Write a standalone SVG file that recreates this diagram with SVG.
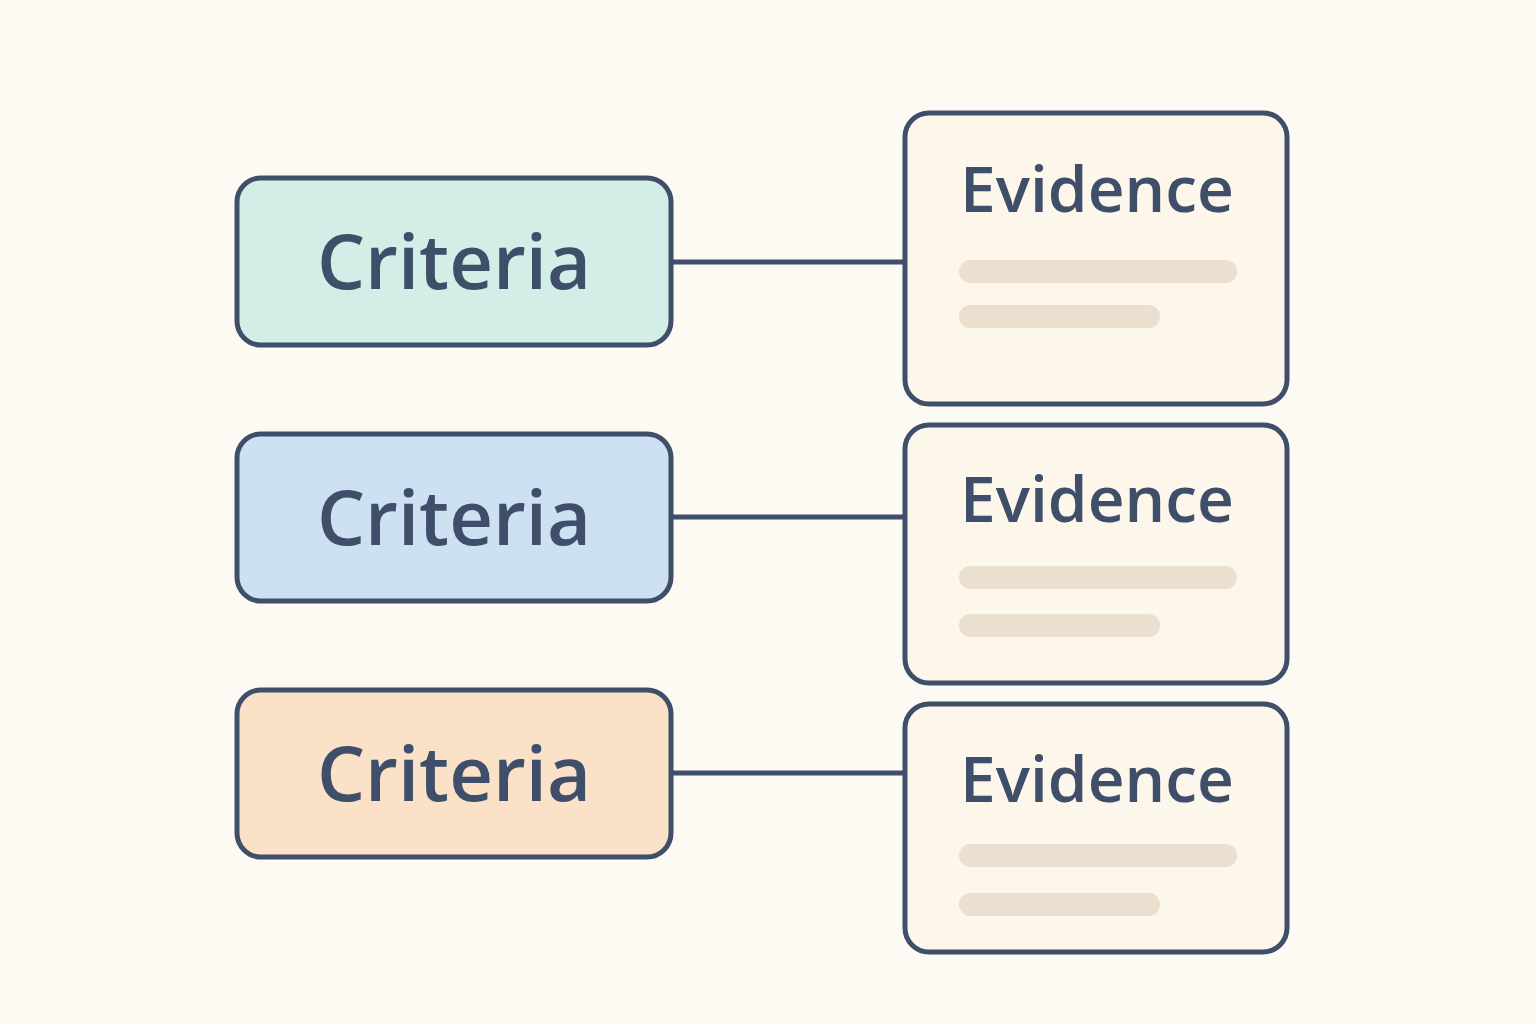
<svg xmlns="http://www.w3.org/2000/svg" width="1536" height="1024" viewBox="0 0 1536 1024">
<style>
.box{stroke:#3f4e69;stroke-width:5}
.ct{font-family:"Open Sans","Liberation Sans",sans-serif;font-weight:600;font-size:76px;fill:#3f4e69;text-anchor:middle}
.et{font-family:"Open Sans","Liberation Sans",sans-serif;font-weight:600;font-size:64px;fill:#3f4e69;text-anchor:middle}
.bar{fill:#ebdfcf}
.ln{stroke:#3f4e69;stroke-width:5;fill:none}
</style>
<rect width="1536" height="1024" fill="#fdfaf3"/>
<g id="connectors">
<line class="ln" x1="671" y1="262" x2="905" y2="262"/>
<line class="ln" x1="671" y1="517" x2="905" y2="517"/>
<line class="ln" x1="671" y1="773" x2="905" y2="773"/>
</g>
<g id="criteria1"><rect class="box" x="237" y="178" width="434" height="167" rx="24" fill="#d3eee6"/><text class="ct" x="454" y="289">Criteria</text></g>
<g id="criteria2"><rect class="box" x="237" y="434" width="434" height="167" rx="24" fill="#cde1f3"/><text class="ct" x="454" y="545">Criteria</text></g>
<g id="criteria3"><rect class="box" x="237" y="690" width="434" height="167" rx="24" fill="#fbe1c8"/><text class="ct" x="454" y="801">Criteria</text></g>
<g id="evidence1"><rect class="box" x="905" y="113" width="382" height="291" rx="24" fill="#fdf6ea"/><text class="et" x="1097" y="212">Evidence</text>
<rect class="bar" x="959" y="260" width="278" height="23" rx="11.5"/><rect class="bar" x="959" y="305" width="201" height="23" rx="11.5"/></g>
<g id="evidence2"><rect class="box" x="905" y="425" width="382" height="258" rx="24" fill="#fdf6ea"/><text class="et" x="1097" y="522">Evidence</text>
<rect class="bar" x="959" y="566" width="278" height="23" rx="11.5"/><rect class="bar" x="959" y="614" width="201" height="23" rx="11.5"/></g>
<g id="evidence3"><rect class="box" x="905" y="704" width="382" height="248" rx="24" fill="#fdf6ea"/><text class="et" x="1097" y="802">Evidence</text>
<rect class="bar" x="959" y="844" width="278" height="23" rx="11.5"/><rect class="bar" x="959" y="893" width="201" height="23" rx="11.5"/></g>
</svg>
